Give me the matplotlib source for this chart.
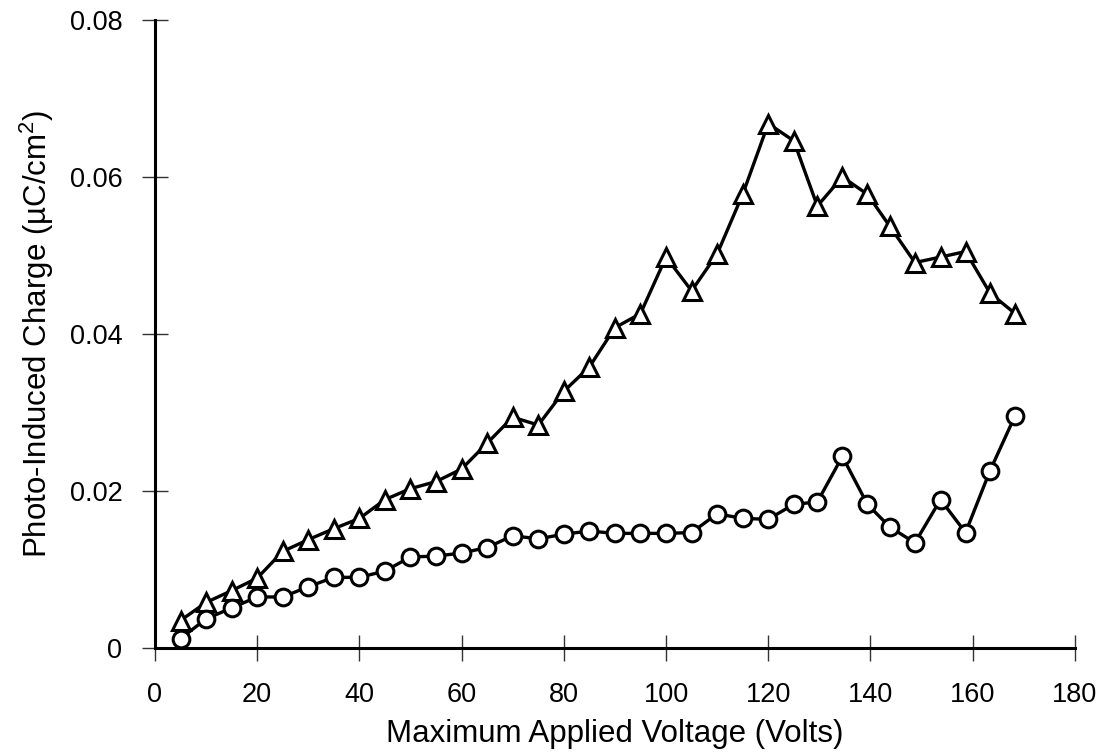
import matplotlib
matplotlib.use("Agg")
import matplotlib.pyplot as plt

plt.rcParams['font.family'] = ['Liberation Sans', 'DejaVu Sans']
plt.rcParams['mathtext.fontset'] = 'custom'
plt.rcParams['mathtext.rm'] = 'Liberation Sans'
plt.rcParams['mathtext.it'] = 'Liberation Sans'

voltage = [5, 10, 15, 20, 25, 30, 35, 40, 45, 50, 55, 60, 65, 70, 75, 80, 85, 90, 95,
           100, 105, 110, 115, 120, 125, 129.6, 134.5, 139.4, 143.8, 148.7, 153.7,
           158.6, 163.4, 168.3]
charge_triangle = [0.0035, 0.0058, 0.0073, 0.0089, 0.0123, 0.0138, 0.0152, 0.0165,
                   0.0189, 0.0203, 0.0212, 0.0228, 0.0261, 0.0294, 0.0284, 0.0327,
                   0.0358, 0.0408, 0.0426, 0.0498, 0.0455, 0.0502, 0.0578, 0.0668,
                   0.0646, 0.0563, 0.0600, 0.0578, 0.0537, 0.0491, 0.0498, 0.0505,
                   0.0452, 0.0426]
charge_circle = [0.0012, 0.0037, 0.0051, 0.0065, 0.0065, 0.0078, 0.0090, 0.0090,
                 0.0098, 0.0116, 0.0117, 0.0121, 0.0128, 0.0143, 0.0139, 0.0145,
                 0.0149, 0.0146, 0.0146, 0.0146, 0.0147, 0.0171, 0.0165, 0.0164,
                 0.0183, 0.0186, 0.0244, 0.0183, 0.0154, 0.0134, 0.0189, 0.0147,
                 0.0226, 0.0296]

x_ticks = [0, 20, 40, 60, 80, 100, 120, 140, 160, 180]
y_ticks = [0, 0.02, 0.04, 0.06, 0.08]
y_tick_labels = ['0', '0.02', '0.04', '0.06', '0.08']

fig = plt.figure(figsize=(11.06, 7.54), dpi=100)
ax = fig.add_axes([0.1401, 0.1406, 0.8318, 0.8329])

ax.plot(voltage, charge_triangle, color='black', linewidth=2.4, marker='^',
        markersize=13, markerfacecolor='white', markeredgecolor='black',
        markeredgewidth=2.2, clip_on=False)
ax.plot(voltage, charge_circle, color='black', linewidth=2.4, marker='o',
        markersize=12, markerfacecolor='white', markeredgecolor='black',
        markeredgewidth=2.2, clip_on=False)

ax.set_xlim(0, 180)
ax.set_ylim(0, 0.08)
ax.set_xticks(x_ticks)
ax.set_yticks(y_ticks)
ax.set_yticklabels(y_tick_labels)

for s in ['top', 'right']:
    ax.spines[s].set_visible(False)
for s in ['left', 'bottom']:
    ax.spines[s].set_linewidth(2.2)
    ax.spines[s].set_color('black')

ax.tick_params(axis='both', direction='inout', length=19, width=1.0,
               color='#333333', labelsize=19.5)
ax.tick_params(axis='x', pad=15)
ax.tick_params(axis='y', pad=14)

ax.set_xlabel('Maximum Applied Voltage (Volts)', fontsize=22.5, labelpad=8)
ax.set_ylabel('Photo-Induced Charge (µC/cm$\\mathregular{^2}$)', fontsize=22.5,
              labelpad=10)

fig.savefig('out.png', dpi=100, facecolor='white')
